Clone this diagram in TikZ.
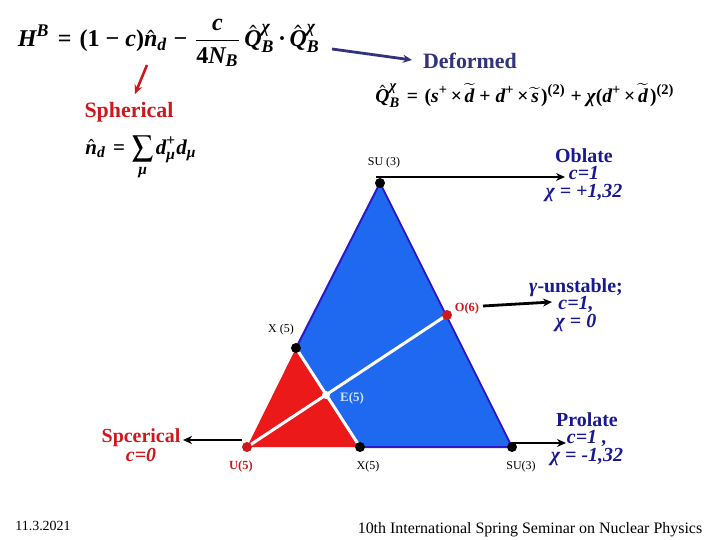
\documentclass[tikz,border=0pt]{standalone}
\usepackage{amsmath}
\usepackage{mathptmx}
\usepackage{fontspec}
\setmainfont{Liberation Serif}
\usetikzlibrary{arrows.meta}
\definecolor{navy}{RGB}{25,25,145}
\definecolor{defblue}{RGB}{50,50,125}
\definecolor{myred}{RGB}{205,25,30}
\definecolor{triblue}{RGB}{30,105,240}
\definecolor{edgeblue}{RGB}{45,25,200}
\definecolor{trired}{RGB}{235,25,25}
\definecolor{eblue}{RGB}{205,225,255}
\newcommand{\bi}[1]{\text{\bfseries\itshape #1}}
\newcommand{\bu}[1]{\text{\bfseries #1}}
\newcommand{\beq}{\mathrel{\,\bu{=}\,}}
\newcommand{\bmin}{\mathbin{\,\bu{−}\,}}
\newcommand{\bplus}{\mathbin{\,\bu{+}\,}}
\newcommand{\btimes}{\mathbin{\bu{×}}}
\newcommand{\bdotop}{\mathbin{\bu{·}}}
\tikzset{
  lbl/.style={font=\fontsize{20}{17.5}\selectfont\bfseries, text=navy, align=center, inner sep=0pt},
  redlbl/.style={font=\fontsize{20}{17.5}\selectfont\bfseries, text=myred, align=center, inner sep=0pt},
  small/.style={font=\fontsize{12}{12}\selectfont, inner sep=0pt},
  dotb/.style={circle, fill=black, minimum size=10bp, inner sep=0pt},
  dotr/.style={circle, fill=myred, minimum size=10bp, inner sep=0pt},
  dotw/.style={circle, fill=white, minimum size=8bp, inner sep=0pt},
  arr/.style={line width=2.8bp, -{Stealth[length=9bp,width=8bp]}},
  wline/.style={white, line width=3bp},
}
\begin{document}
\begin{tikzpicture}[x=1bp,y=-1bp]
\useasboundingbox (0,0) rectangle (720,540);
% formulas
\node[inner sep=0pt] (hb) at (169,43) {\resizebox{302bp}{!}{$\displaystyle \bi{H}^{\bi{B}}\beq\bu{(1}\bmin\bi{c}\bu{)}\hat{\bi{n}}_{\bi{d}}\bmin\frac{\bi{c}}{\bu{4}\bi{N}_{\bi{B}}}\,\hat{\bi{Q}}^{\bi{χ}}_{\bi{B}}\bdotop\hat{\bi{Q}}^{\bi{χ}}_{\bi{B}}$}};
\node[inner sep=0pt] (qb) at (525,95) {\resizebox{299bp}{!}{$\displaystyle \hat{\bi{Q}}^{\bi{χ}}_{\bi{B}}\beq\bu{(}\bi{s}^{\bu{+}}\btimes\widetilde{\bi{d}}\bplus\bi{d}^{\bu{+}}\btimes\widetilde{\bi{s}}\,\bu{)}^{\bu{(2)}}\bplus\bi{χ}\bu{(}\bi{d}^{\bu{+}}\btimes\widetilde{\bi{d}}\,\bu{)}^{\bu{(2)}}$}};
\node[inner sep=0pt] (nd) at (141,158) {\resizebox{111bp}{!}{$\displaystyle \hat{\bi{n}}_{\bi{d}}\beq\sum_{\bi{μ}}\bi{d}^{\bu{+}}_{\bi{μ}}\bi{d}_{\bi{μ}}$}};
% top labels
\node[font=\fontsize{22}{22}\selectfont\bfseries, text=defblue, inner sep=0pt] (def) at (470,61) {Deformed};
\node[font=\fontsize{22}{22}\selectfont\bfseries, text=myred, inner sep=0pt] (sph) at (129,112) {Spherical};
\coordinate (da) at (332,49);
\coordinate (db) at (412,60);
\draw[defblue, line width=2.8bp, -{Stealth[length=9bp,width=8bp]}] (da) -- (db);
\coordinate (ra) at (147,65);
\coordinate (rb) at (135,94);
\draw[myred, line width=2.6bp, -{Stealth[length=9bp,width=8bp]}] (ra) -- (rb);
% triangle
\coordinate (su3t) at (380,183);
\coordinate (x5l) at (296,348);
\coordinate (x5b) at (360,447);
\coordinate (su3r) at (512,447);
\coordinate (u5) at (247,447);
\coordinate (o6) at (447,315);
\fill[triblue] (su3t) -- (x5l) -- (x5b) -- (su3r) -- cycle;
\draw[edgeblue, line width=2bp, line join=round] (x5l) -- (su3t) -- (su3r) -- (x5b);
\fill[trired] (u5) -- (x5l) -- (x5b) -- cycle;
\draw[wline] (u5) -- (o6);
\draw[wline] (x5l) -- (x5b);
\node[dotw] (e5) at (326,395) {};
\node[dotb] (nsu3t) at (su3t) {};
\node[dotb] (nx5l) at (x5l) {};
\node[dotb] (nx5b) at (x5b) {};
\node[dotb] (nsu3r) at (su3r) {};
\node[dotr] (nu5) at (u5) {};
\node[dotr] (no6) at (o6) {};
% vertex labels
\node[small] (lsu3t) at (384,163) {SU (3)};
\node[small] (lx5l) at (281,330) {X (5)};
\node[small] (lx5b) at (368,467) {X(5)};
\node[small] (lsu3r) at (521,467) {SU(3)};
\node[small, font=\fontsize{12.5}{12}\selectfont\bfseries, text=myred] (lu5) at (241,467) {U(5)};
\node[small, font=\fontsize{12.5}{12}\selectfont\bfseries, text=myred] (lo6) at (467,309) {O(6)};
\node[small, font=\fontsize{13}{12}\selectfont\bfseries, text=eblue] (le5) at (352,398) {E(5)};
% right labels
\node[lbl] (obl) at (584,175) {Oblate\\\textit{c=1}\\\textit{χ = +1,32}};
\node[lbl] (gam) at (576,305) {\textit{γ}-unstable;\\\textit{c=1,}\\\textit{χ = 0}};
\node[lbl] (pro) at (587,439) {Prolate\\\textit{c=1 ,}\\\textit{χ = -1,32}};
\node[redlbl] (spc) at (141,445) {Spcerical\\\textit{c=0}};
\coordinate (oa) at (565,177);
\coordinate (ga) at (552,302);
\coordinate (pa) at (566,443);
\coordinate (sa) at (183,440);
\coordinate (sb) at (242,440);
\coordinate (ob) at (376,177);
\coordinate (gb) at (483,306);
\coordinate (pb) at (512,443);
\draw[arr] (ob) -- (oa);
\draw[arr] (gb) -- (ga);
\draw[arr] (pb) -- (pa);
\draw[arr] (sb) -- (sa);
% footer
\node[font=\fontsize{14}{14}\selectfont, inner sep=0pt] (date) at (43,526) {11.3.2021};
\node[font=\fontsize{16}{16}\selectfont, inner sep=0pt] (conf) at (530,530) {10th International Spring Seminar on Nuclear Physics};
\end{tikzpicture}
\end{document}
